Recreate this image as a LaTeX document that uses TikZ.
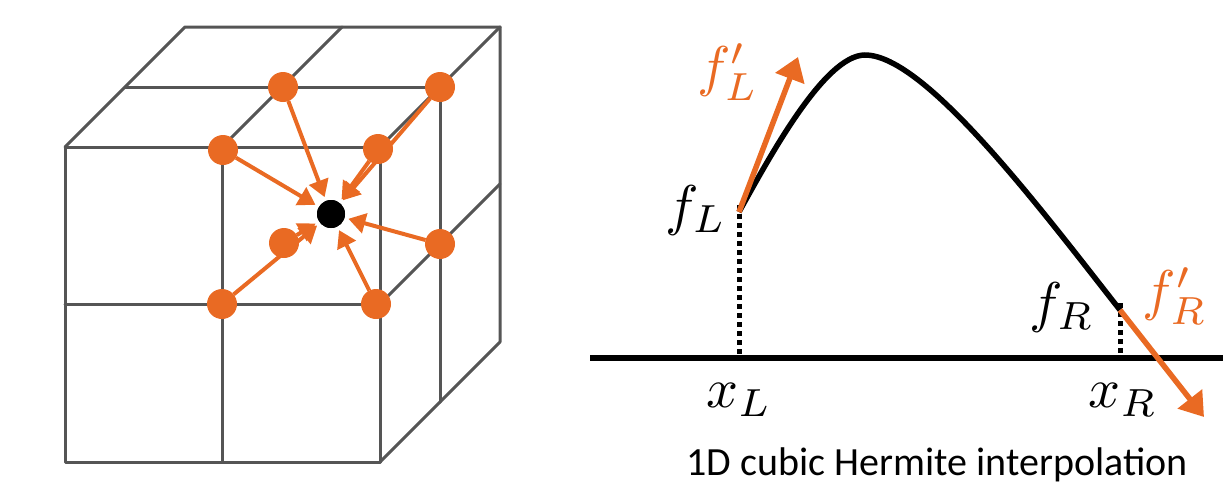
\documentclass[tikz,border=0pt]{standalone}
\usepackage{graphicx}
\usepackage{fontspec}
\newfontfamily\capfont{Carlito}
\usetikzlibrary{arrows.meta}
\definecolor{hermorange}{RGB}{233,106,35}
\definecolor{gridgray}{RGB}{85,85,85}
\newcommand{\bigmath}[1]{\scalebox{5.6}{$#1$}}
\tikzset{
  gridline/.style={draw=gridgray, line width=3pt, line cap=round, line join=round},
  odot/.style={circle, fill=hermorange, minimum size=30pt, inner sep=0pt, outer sep=0pt},
  bdot/.style={circle, fill=black, minimum size=28pt, inner sep=0pt, outer sep=0pt},
  oarrow/.style={draw=hermorange, line width=4pt, shorten >=4pt,
    -{Triangle[length=17pt,width=20pt]}},
  tarrow/.style={draw=hermorange, line width=5.5pt,
    -{Triangle[length=23pt,width=30pt]}},
  curve/.style={draw=black, line width=5.5pt},
  axisline/.style={draw=black, line width=6pt},
  dotline/.style={draw=black, line width=5pt, dash pattern=on 5pt off 4pt},
  mlabel/.style={inner sep=0pt},
  olabel/.style={mlabel, text=hermorange},
  caption/.style={inner sep=0pt, anchor=base, font=\capfont\fontsize{40}{44}\selectfont}
}
\begin{document}
\begin{tikzpicture}[x=1pt, y=-1pt]
\useasboundingbox (0,0) rectangle (1223,485);
% ---- cube grid ----
\draw[gridline] (65,147) rectangle (380,462);
\draw[gridline] (222,147) -- (222,462);
\draw[gridline] (65,304) -- (380,304);
\draw[gridline] (65,147) -- (185,27) -- (500,27);
\draw[gridline] (222,147) -- (342,27);
\draw[gridline] (380,147) -- (500,27);
\draw[gridline] (125,87) -- (440,87);
\draw[gridline] (500,27) -- (500,342) -- (380,462);
\draw[gridline] (440,87) -- (440,402);
\draw[gridline] (380,304) -- (500,184);
% ---- stencil points ----
\node[odot] (p1) at (283,87) {};
\node[odot] (p2) at (440,87) {};
\node[odot] (p3) at (223,150) {};
\node[odot] (p4) at (378,149) {};
\node[odot] (p5) at (284,243) {};
\node[odot] (p6) at (440,244) {};
\node[odot] (p7) at (222,304) {};
\node[odot] (p8) at (376,304) {};
\node[bdot] (c) at (331,214) {};
\foreach \p in {p1,p2,p3,p4,p5,p6,p7,p8}{
  \draw[oarrow] (\p) -- (c);
}
\node[bdot] at (c) {};
% ---- 1D Hermite plot ----
\coordinate (ax0) at (590,358);
\coordinate (ax1) at (1223,358);
\coordinate (fL) at (739,212);
\coordinate (pk) at (865,55);
\coordinate (fR) at (1120,310);
\coordinate (xLa) at (739,355);
\coordinate (xRa) at (1120,355);
\coordinate (tL) at (798,57);
\coordinate (tR) at (1204,417);
\draw[axisline] (ax0) -- (ax1);
\draw[dotline] ([yshift=7pt]fL) -- (xLa);
\draw[dotline] ([yshift=7pt]fR) -- (xRa);
\draw[curve] (fL) .. controls (768,160) and (824,55) .. (pk)
  .. controls (925,55) and (1040,208) .. (fR);
\draw[tarrow] (fL) -- (tL);
\draw[tarrow] (fR) -- (tR);
\node[olabel] (lfpL) at (728,72) {\bigmath{f'_L}};
\node[mlabel] (lfL) at (696,210) {\bigmath{f_L}};
\node[mlabel] (lfR) at (1062,307) {\bigmath{f_R}};
\node[olabel] (lfpR) at (1175,296) {\bigmath{f'_R}};
\node[mlabel] (lxL) at (739,400) {\bigmath{x_L}};
\node[mlabel] (lxR) at (1123,400) {\bigmath{x_R}};
\node[caption] (cap) at (937,475) {1D cubic Hermite interpolation};
\end{tikzpicture}
\end{document}
